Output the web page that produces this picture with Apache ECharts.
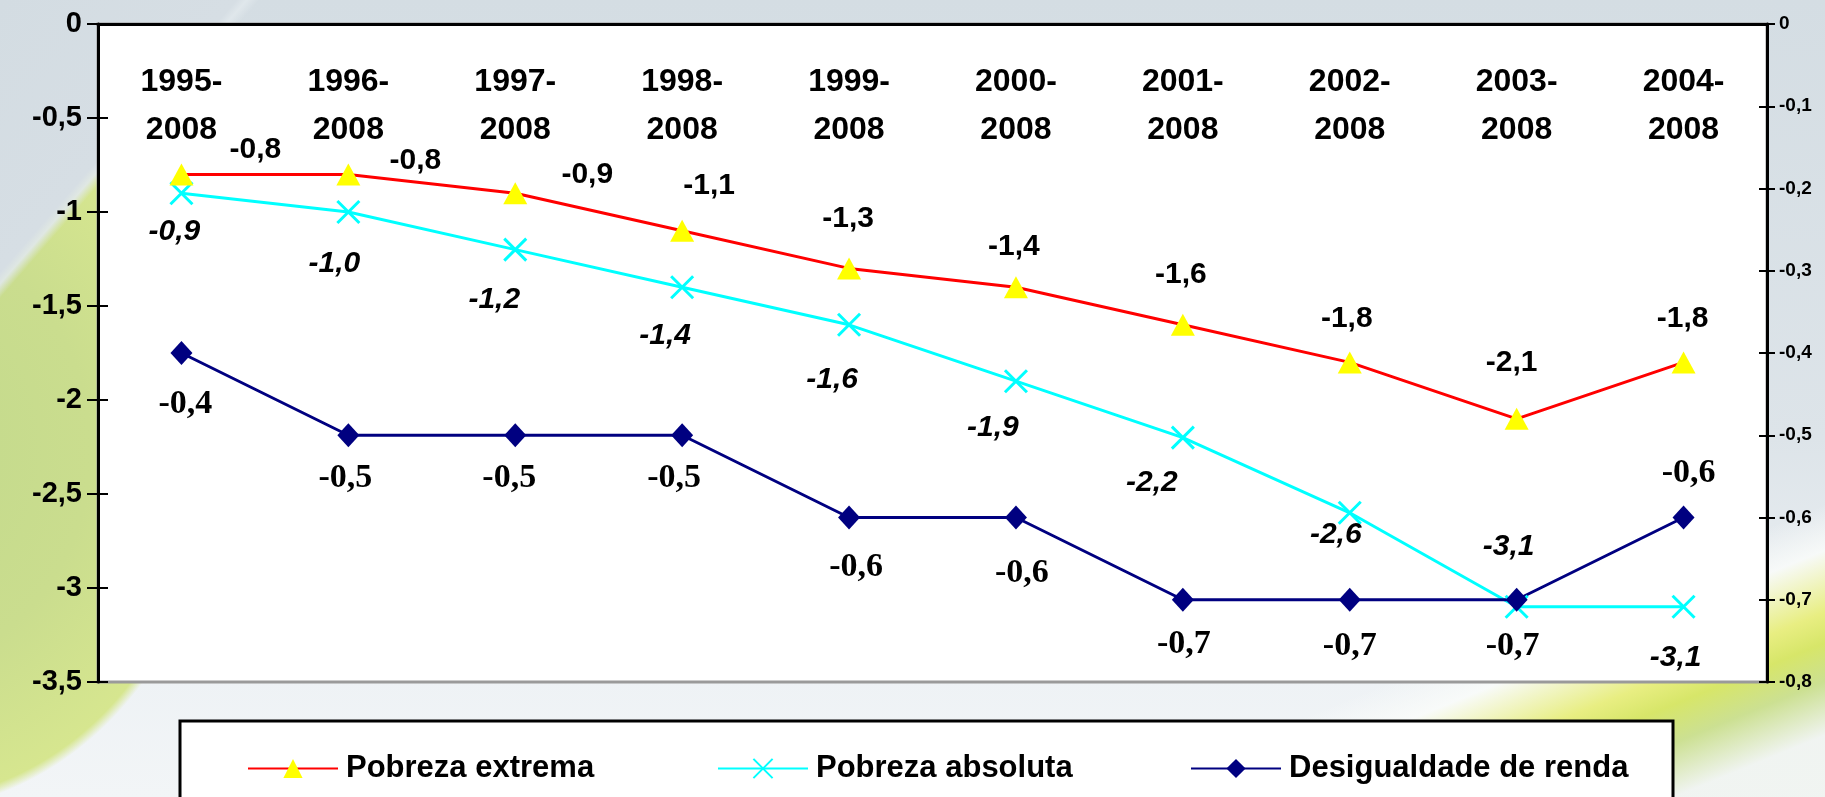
<!DOCTYPE html>
<html>
<head>
<meta charset="utf-8">
<script src="https://cdn.jsdelivr.net/npm/echarts@6/dist/echarts.min.js"></script>
<style>
  html, body { margin: 0; padding: 0; }
  body {
    width: 1825px; height: 797px; overflow: hidden;
    background:
      linear-gradient(131deg, #d3dce2 0%, #d6dee4 9.4%, rgba(225,232,236,0.9) 9.8%, rgba(213,222,228,0) 10.3%),
      linear-gradient(157.8deg, rgba(255,255,255,0) 0%, rgba(255,255,255,0) 81%, rgba(250,252,250,0.85) 84%, rgba(232,238,130,1) 88%, rgba(215,230,105,1) 90%, rgba(200,222,135,0.9) 92.5%, rgba(240,244,240,0.8) 96%),
      radial-gradient(ellipse 317px 362px at -100px 450px, #c2d98c 0%, #cadd8e 60%, #d6e68f 97%, rgba(216,230,143,0) 100%),
      linear-gradient(to bottom, #d4dde3 0%, #dde4e9 55%, #eef2f5 85%, #f2f5f7 100%);
  }
  #main { width: 1825px; height: 797px; }
</style>
</head>
<body>
<div id="main"></div>
<script>
var periodos = ['1995-\n2008', '1996-\n2008', '1997-\n2008', '1998-\n2008', '1999-\n2008',
                '2000-\n2008', '2001-\n2008', '2002-\n2008', '2003-\n2008', '2004-\n2008'];
var pobrezaExtrema = [-0.8, -0.8, -0.9, -1.1, -1.3, -1.4, -1.6, -1.8, -2.1, -1.8];
var pobrezaAbsoluta = [-0.9, -1.0, -1.2, -1.4, -1.6, -1.9, -2.2, -2.6, -3.1, -3.1];
var desigualdade = [-0.4, -0.5, -0.5, -0.5, -0.6, -0.6, -0.7, -0.7, -0.7, -0.6];

// deslocamento dos rótulos (como no gráfico original)
var offExtrema = [[74,-25],[67,-14],[72,-18],[27,-45],[-1,-50],[-2,-40],[-2,-50],[-3,-44],[-5,-56],[-1,-44]];
var offAbsoluta = [[-7,39],[-14,52],[-21,50],[-17,49],[-17,55],[-23,47],[-31,45],[-14,22],[-8,-60],[-8,51]];
var offDesig = [[4,51],[-3,43],[-6,43],[-8,43],[7,50],[6,56],[1,44],[0,46],[-4,46],[5,-44]];

var fonte = '"Liberation Sans", Arial, sans-serif';

function virgula(v) {
    return String(v).replace('.', ',');
}
function dados(vals, offs) {
    return vals.map(function (v, i) {
        return { value: v, label: { offset: offs[i] } };
    });
}

var myChart = echarts.init(document.getElementById('main'));

var option = {
    backgroundColor: 'transparent',
    animation: false,
    grid: {
        left: 98, right: 58, top: 24, bottom: 115,
        show: true, backgroundColor: '#ffffff',
        borderColor: '#9a9a9a', borderWidth: 3
    },
    graphic: [{
        type: 'rect',
        shape: { x: 180, y: 721, width: 1493, height: 120 },
        style: { fill: '#ffffff', stroke: '#000000', lineWidth: 3 },
        z: 0
    }],
    legend: [
        { data: ['Pobreza extrema'], left: 242, top: 748 },
        { data: ['Pobreza absoluta'], left: 712, top: 748 },
        { data: ['Desigualdade de renda'], left: 1185, top: 748 }
    ].map(function (l) {
        l.itemWidth = 90; l.itemHeight = 24;
        l.textStyle = { fontFamily: fonte, fontWeight: 'bold', fontSize: 31, color: '#000', padding: [0, 0, 0, 3] };
        l.z = 5;
        return l;
    }),
    xAxis: [{
        type: 'category',
        data: periodos,
        position: 'top',
        axisLine: { lineStyle: { color: '#000', width: 3 } },
        axisTick: { inside: false, length: 11, lineStyle: { color: '#000', width: 2 } },
        axisLabel: {
            inside: true, margin: 34, color: '#000',
            fontFamily: fonte, fontWeight: 'bold', fontSize: 32, lineHeight: 48
        },
        splitLine: { show: false }
    }, {
        type: 'category',
        data: periodos,
        position: 'top',
        axisLine: { show: false },
        axisTick: { inside: true, length: 10, lineStyle: { color: '#000', width: 2 } },
        axisLabel: { show: false }
    }],
    yAxis: [{
        type: 'value',
        position: 'left',
        min: -3.5, max: 0, interval: 0.5,
        axisLine: { show: true, lineStyle: { color: '#000', width: 3 } },
        axisTick: { show: true, inside: false, length: 11, lineStyle: { color: '#000', width: 2 } },
        axisLabel: {
            margin: 16, color: '#000', fontFamily: fonte, fontWeight: 'bold', fontSize: 29,
            formatter: virgula
        },
        splitLine: { show: false }
    }, {
        type: 'value',
        position: 'right',
        min: -0.8, max: 0, interval: 0.1,
        axisLine: { show: true, lineStyle: { color: '#000', width: 3 } },
        axisTick: { show: true, inside: false, length: 8, lineStyle: { color: '#000', width: 2 } },
        axisLabel: {
            margin: 12, color: '#000', fontFamily: fonte, fontWeight: 'bold', fontSize: 19,
            formatter: function (v) { return virgula(Math.round(v * 10) / 10); }
        },
        splitLine: { show: false }
    }, {
        type: 'value',
        position: 'left',
        min: -3.5, max: 0, interval: 0.5,
        axisLine: { show: false },
        axisTick: { show: true, inside: true, length: 10, lineStyle: { color: '#000', width: 2 } },
        axisLabel: { show: false },
        splitLine: { show: false }
    }, {
        type: 'value',
        position: 'right',
        min: -0.8, max: 0, interval: 0.1,
        axisLine: { show: false },
        axisTick: { show: true, inside: true, length: 8, lineStyle: { color: '#000', width: 2 } },
        axisLabel: { show: false },
        splitLine: { show: false }
    }],
    series: [{
        name: 'Pobreza extrema',
        type: 'line',
        yAxisIndex: 0,
        data: dados(pobrezaExtrema, offExtrema),
        symbol: 'triangle',
        symbolSize: [24, 22],
        lineStyle: { color: '#ff0000', width: 3 },
        itemStyle: { color: '#ffff00' },
        label: {
            show: true, position: 'inside', color: '#000',
            fontFamily: fonte, fontWeight: 'bold', fontSize: 30,
            formatter: function (p) { return virgula(p.value.toFixed(1)); }
        },
        z: 3
    }, {
        name: 'Pobreza absoluta',
        type: 'line',
        yAxisIndex: 0,
        data: dados(pobrezaAbsoluta, offAbsoluta),
        symbol: 'path://M0,0L10,10M10,0L0,10',
        symbolSize: 22,
        lineStyle: { color: '#00ffff', width: 3 },
        itemStyle: { color: '#00ffff', borderColor: '#00ffff', borderWidth: 3 },
        label: {
            show: true, position: 'inside', color: '#000',
            fontFamily: fonte, fontWeight: 'bold', fontStyle: 'italic', fontSize: 30,
            formatter: function (p) { return virgula(p.value.toFixed(1)); }
        },
        z: 2
    }, {
        name: 'Desigualdade de renda',
        type: 'line',
        yAxisIndex: 1,
        data: dados(desigualdade, offDesig),
        symbol: 'diamond',
        symbolSize: [22, 24],
        lineStyle: { color: '#000080', width: 3 },
        itemStyle: { color: '#000080' },
        label: {
            show: true, position: 'inside', color: '#000',
            fontFamily: '"Liberation Serif", "Times New Roman", serif', fontWeight: 'bold', fontSize: 34,
            formatter: function (p) { return virgula(p.value.toFixed(1)); }
        },
        z: 2
    }]
};

myChart.setOption(option);
</script>
</body>
</html>
